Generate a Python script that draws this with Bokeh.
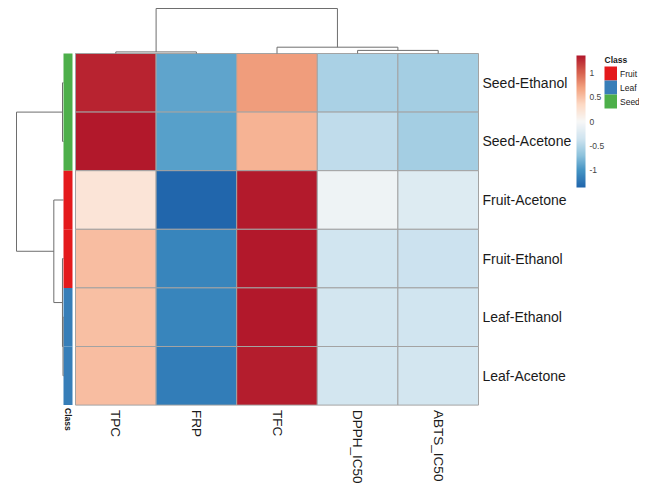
import numpy as np
from bokeh.plotting import figure
from bokeh.models import Range1d, ColumnDataSource, LinearColorMapper, ColorBar, FixedTicker
from bokeh.core.properties import value
from bokeh.transform import transform
from bokeh.embed import file_html
from bokeh.resources import INLINE

# ---------------- data ----------------
samples = ["Seed-Ethanol", "Seed-Acetone", "Fruit-Acetone", "Fruit-Ethanol", "Leaf-Ethanol", "Leaf-Acetone"]
sample_class = ["Seed", "Seed", "Fruit", "Fruit", "Leaf", "Leaf"]
variables = ["TPC", "FRP", "TFC", "DPPH_IC50", "ABTS_IC50"]

TPC = [1.30, 1.36, 0.23, 0.53, 0.52, 0.53]
FRP = [-0.90, -0.93, -1.36, -1.12, -1.12, -1.19]
TFC = [0.72, 0.59, 1.34, 1.36, 1.36, 1.33]
DPPH_IC50 = [-0.55, -0.43, -0.08, -0.33, -0.32, -0.32]
ABTS_IC50 = [-0.58, -0.58, -0.23, -0.37, -0.33, -0.32]

# hierarchical clustering merges: (left, right, relative height)
row_linkage = [(0, 1, 0.021), (4, 5, 0.010), (3, 7, 0.022), (2, 8, 0.206), (6, 9, 1.0)]
col_linkage = [(0, 1, 0.035), (3, 4, 0.069), (2, 6, 0.140), (5, 7, 1.0)]

class_names = ["Fruit", "Leaf", "Seed"]
class_colors = ["#E41A1C", "#377EB8", "#4DAF4A"]
scale_ticks = [-1.0, -0.5, 0.0, 0.5, 1.0]
scale_labels = ["-1", "-0.5", "0", "0.5", "1"]

# ---------------- layout (pixels inside the figure) ----------------
W, H = 639, 486
HX0, HY0 = 75, 53        # heatmap top-left
CW, RH = 80.6, 58.6      # cell size
TREE_TOP = 45            # column dendrogram height (px)
TREE_LEFT = 47           # row dendrogram width (px)
FONT_NAME = "Liberation Sans"
FONT = value(FONT_NAME)

def px2x(px):
    return (px - HX0) / CW

def px2y(py):
    return (py - HY0) / RH

p = figure(width=W, height=H, output_backend="svg", toolbar_location=None,
           x_range=Range1d(px2x(0), px2x(W)), y_range=Range1d(px2y(H), px2y(0)),
           x_axis_location=None, y_axis_location=None, min_border=0)
p.grid.visible = False
p.outline_line_color = None
p.background_fill_color = "white"
p.border_fill_color = "white"

base = ["#2166AC", "#4393C3", "#92C5DE", "#D1E5F0", "#F7F7F7",
        "#FDDBC7", "#F4A582", "#D6604D", "#B2182B"]
rgb = np.array([[int(c[i:i + 2], 16) for i in (1, 3, 5)] for c in base], float)
t = np.linspace(0, len(base) - 1, 256)
pal = ["#%02x%02x%02x" % tuple(int(round(np.interp(tt, np.arange(len(base)), rgb[:, k]))) for k in range(3))
       for tt in t]

columns = [TPC, FRP, TFC, DPPH_IC50, ABTS_IC50]
vmax = max(abs(v) for col in columns for v in col)
mapper = LinearColorMapper(palette=pal, low=-vmax, high=vmax)

xs, ys, vals = [], [], []
for j, col in enumerate(columns):
    for i, v in enumerate(col):
        xs.append(j + 0.5)
        ys.append(i + 0.5)
        vals.append(v)
src = ColumnDataSource(dict(x=xs, y=ys, val=vals))
p.rect(x="x", y="y", width=1, height=1, source=src,
       fill_color=transform("val", mapper), line_color="#A3A3A3", line_width=1)

# class annotation bar
cmap = dict(zip(class_names, class_colors))
p.rect(x=[px2x(HX0 - 7.5)] * len(samples), y=[i + 0.5 for i in range(len(samples))],
       width=9 / CW, height=1, fill_color=[cmap[c] for c in sample_class], line_color=None)

# dendrograms
def dendro(linkage, n):
    pos = {i: i + 0.5 for i in range(n)}
    hgt = {i: 0.0 for i in range(n)}
    lx, ly = [], []
    for k, (a, b, h) in enumerate(linkage):
        lx.append([pos[a], pos[a], pos[b], pos[b]])
        ly.append([hgt[a], h, h, hgt[b]])
        pos[n + k] = (pos[a] + pos[b]) / 2
        hgt[n + k] = h
    return lx, ly

cpos, chgt = dendro(col_linkage, len(variables))
hmax = max(h for _, _, h in col_linkage)
p.multi_line(xs=cpos, ys=[[-h / hmax * TREE_TOP / RH for h in hh] for hh in chgt],
             line_color="#6E6E6E", line_width=1)

rpos, rhgt = dendro(row_linkage, len(samples))
hmax = max(h for _, _, h in row_linkage)
p.multi_line(xs=[[px2x(HX0 - 12) - h / hmax * TREE_LEFT / CW for h in hh] for hh in rhgt], ys=rpos,
             line_color="#6E6E6E", line_width=1)

# labels
p.text(x=[len(variables) + 4 / CW] * len(samples), y=[i + 0.5 for i in range(len(samples))],
       text=samples, text_font=FONT, text_font_size="14px", text_color="#1A1A1A",
       text_align="left", text_baseline="middle")
p.text(x=[j + 0.5 for j in range(len(variables))], y=[len(samples) + 5 / RH] * len(variables),
       text=variables, angle=-np.pi / 2, text_font=FONT, text_font_size="13.5px",
       text_color="#1A1A1A", text_align="left", text_baseline="middle")
p.text(x=[px2x(HX0 - 7.5)], y=[len(samples) + 3 / RH], text=["Class"], angle=-np.pi / 2,
       text_font=FONT, text_font_size="8.5px", text_font_style="bold", text_color="#1A1A1A",
       text_align="left", text_baseline="middle")

# class legend
LX, LY, BW, BH = 604, 66, 12.5, 14
p.text(x=[px2x(LX)], y=[px2y(LY - 2)], text=["Class"], text_font=FONT, text_font_size="8.5px",
       text_font_style="bold", text_color="#1A1A1A", text_align="left", text_baseline="bottom")
p.rect(x=[px2x(LX + BW / 2)] * len(class_names),
       y=[px2y(LY + (k + 0.5) * BH) for k in range(len(class_names))],
       width=BW / CW, height=BH / RH, fill_color=class_colors, line_color=None)
p.text(x=[px2x(LX + BW + 3)] * len(class_names),
       y=[px2y(LY + (k + 0.5) * BH) for k in range(len(class_names))],
       text=class_names, text_font=FONT, text_font_size="8.5px", text_color="#1A1A1A",
       text_align="left", text_baseline="middle")

# colour scale
CB_X, CB_TOP, CB_H = 576, 55, 132
cb = ColorBar(color_mapper=mapper, ticker=FixedTicker(ticks=scale_ticks),
              major_label_overrides=dict(zip(scale_ticks, scale_labels)),
              width=9, height=CB_H, location=(CB_X, H - CB_TOP - CB_H), padding=0, margin=0,
              major_tick_line_color=None, minor_tick_line_color=None, bar_line_color=None,
              label_standoff=4, major_label_text_font_size="8.5px",
              major_label_text_font=FONT_NAME, major_label_text_color="#444444",
              background_fill_color=None, border_line_color=None)
p.add_layout(cb)

open("out.html", "w").write(file_html(p, INLINE))
